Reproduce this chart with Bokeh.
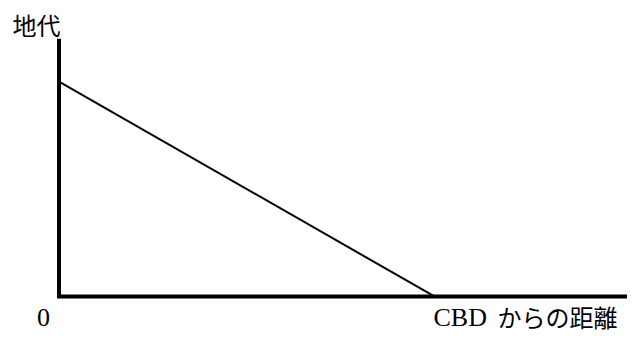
from bokeh.plotting import figure
from bokeh.models import Range1d
from bokeh.core.properties import value
from bokeh.embed import file_html
from bokeh.resources import INLINE

# ---- data ----
distance = [0, 5]        # distance from CBD (arbitrary units)
rent = [100, 0]          # bid rent
axis_top = 120           # top of the vertical axis (rent units)
y_label = "地代"
x_label_latin = "CBD"
x_label_jp = "からの距離"
origin_label = "0"

W, H = 627, 336
SCX, SCY = W / 643.0, H / 352.0   # reference -> canvas scale
X0 = 60 * SCX                      # canvas x of origin
Y0 = H - 310 * SCY                 # canvas y (from bottom) of origin
PX_X = (445 - 60) * SCX / 5.0      # pixels per distance unit
PX_Y = (310 - 85) * SCY / 100.0    # pixels per rent unit

x_range = Range1d(-X0 / PX_X, (W - X0) / PX_X)
y_range = Range1d(-Y0 / PX_Y, (H - Y0) / PX_Y)

def sx(cx):
    return (cx - X0) / PX_X

def sy(cy_top):
    return ((H - cy_top) - Y0) / PX_Y

p = figure(width=W, height=H, x_range=x_range, y_range=y_range,
           toolbar_location=None, output_backend="svg", min_border=0,
           outline_line_color=None, background_fill_color="white",
           border_fill_color="white")
p.axis.visible = False
p.grid.visible = False

# axes as an L-shaped polyline
p.line(x=[0, 0, x_range.end], y=[axis_top, 0, 0], line_color="black",
       line_width=4, line_join="miter", line_cap="butt")

# bid rent line
p.line(x=distance, y=rent, line_color="black", line_width=2)

# labels
p.text(x=[sx(12)], y=[sy(23.5)], text=[y_label], text_font=value("Noto Sans CJK JP"),
       text_font_size="24px", text_align="left", text_baseline="middle", text_color="black")
p.text(x=[sx(43)], y=[sy(317)], text=[origin_label], text_font=value("Liberation Serif"),
       text_font_size="26px", text_align="center", text_baseline="middle", text_color="black")
p.text(x=[sx(433)], y=[sy(317)], text=[x_label_latin], text_font=value("Liberation Serif"),
       text_font_size="26px", text_align="left", text_baseline="middle", text_color="black")
p.text(x=[sx(617)], y=[sy(316)], text=[x_label_jp], text_font=value("Noto Sans CJK JP"),
       text_font_size="24px", text_align="right", text_baseline="middle", text_color="black")

open("out.html", "w").write(file_html(p, INLINE))
